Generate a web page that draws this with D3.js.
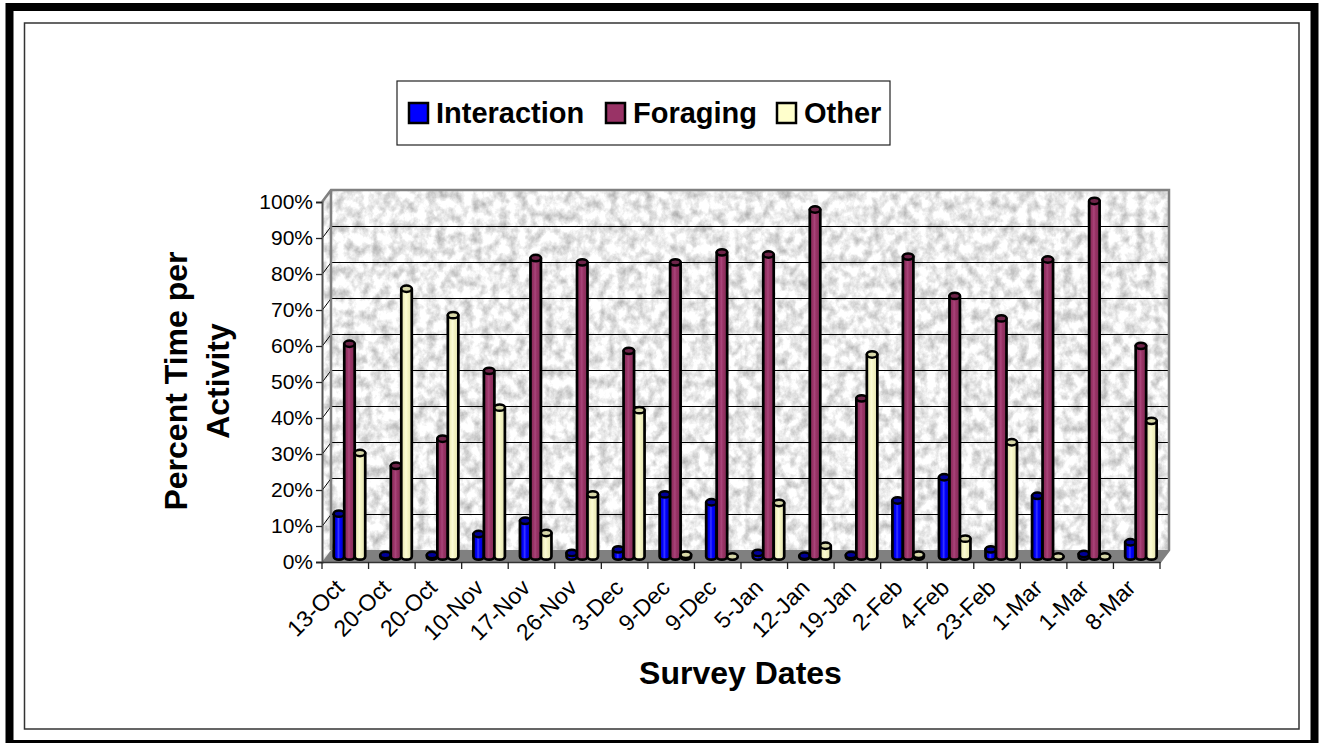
<!DOCTYPE html>
<html>
<head>
<meta charset="utf-8">
<script src="https://cdn.jsdelivr.net/npm/d3@7/dist/d3.min.js"></script>
<style>
  html, body { margin: 0; padding: 0; background: #fff; overflow: hidden; }
  svg { display: block; font-family: "Liberation Sans", Arial, sans-serif; }
</style>
</head>
<body>
<svg id="chart" width="1324" height="743"></svg>
<script>
// Survey dates (some dates were surveyed twice, so rows are addressed by index)
const categories = ["13-Oct","20-Oct","20-Oct","10-Nov","17-Nov","26-Nov","3-Dec","9-Dec","9-Dec","5-Jan","12-Jan","19-Jan","2-Feb","4-Feb","23-Feb","1-Mar","1-Mar","8-Mar"];
const seriesNames = ["Interaction","Foraging","Other"];
const interaction = [12,0.4,0.4,6.3,10,1,2,17.4,15.2,1,0.2,0.4,15.7,22.2,2,17,0.7,4];
const foraging = [59.6,25.4,33,52,83.6,82.4,57.6,82.4,85.2,84.6,97.2,44.3,84,73,66.7,83.2,99.6,59];
const other = [29,75,67.6,41.7,6.6,17.4,41,0.5,0,15,3,56.6,0.5,5,32,0,0,38];
const seriesColors = ["#0000ff","#993366","#f5f5c4"];
const seriesShades = [["#0000b0","#3a3aff"],["#7f2c55","#a8457a"],["#e2e2b0","#fbfbd6"]];
const capColors = ["#000099","#6e2449","#d8d8a8"];
const legendColors = ["#0000ff","#993366","#ffffcc"];
const yTicks = [0,10,20,30,40,50,60,70,80,90,100];

const svg = d3.select("#chart");
const defs = svg.append("defs");

// Plot box: front axes plus the offset of the back wall
const left = 322, right = 1160, frontTop = 202, frontBottom = 562;
const depthX = 9, depthY = -12;
const wallLeft = left + depthX, wallRight = right + depthX;
const wallTop = frontTop + depthY, wallBottom = frontBottom + depthY;

// Speckled stone surface for the walls
const stone = defs.append("filter").attr("id","stone")
  .attr("x",0).attr("y",0).attr("width",1).attr("height",1)
  .attr("color-interpolation-filters","sRGB");
stone.append("feTurbulence").attr("type","fractalNoise")
  .attr("baseFrequency","0.11 0.09").attr("numOctaves",4).attr("seed",11);
stone.append("feColorMatrix").attr("type","matrix")
  .attr("values","0.55 0 0 0 0.65  0.55 0 0 0 0.65  0.55 0 0 0 0.65  0 0 0 0 1");

// Side shading of the cylinders
seriesColors.forEach((c,i) => {
  const g = defs.append("linearGradient").attr("id","cyl"+i);
  [[0,seriesShades[i][0]],[0.3,c],[0.45,seriesShades[i][1]],[0.6,c],[1,seriesShades[i][0]]]
    .forEach(([o,col]) => g.append("stop").attr("offset",o).attr("stop-color",col));
});

// Page frames
svg.append("rect").attr("x",9.5).attr("y",7).attr("width",1305).attr("height",737)
  .attr("fill","#fff").attr("stroke","#000").attr("stroke-width",8);
svg.append("rect").attr("x",24.5).attr("y",23).attr("width",1274.5).attr("height",706)
  .attr("fill","none").attr("stroke","#333").attr("stroke-width",1.5);

// Scales
const y = d3.scaleLinear().domain([0,100]).range([frontBottom,frontTop]);
const barY = d3.scaleLinear().domain([0,100]).range([556.5,199.5]);
const x0 = d3.scaleBand().domain(d3.range(categories.length)).range([left,right]);
const x1 = d3.scaleBand().domain(seriesNames).range([0,x0.bandwidth()]).paddingOuter(0.717).paddingInner(0);
const barShiftX = 4.2;

// Walls and floor
svg.append("rect").attr("x",wallLeft).attr("y",wallTop)
  .attr("width",wallRight-wallLeft).attr("height",wallBottom-wallTop)
  .attr("filter","url(#stone)");
const leftWallClip = defs.append("clipPath").attr("id","leftWall");
const leftWallPts = [[left,frontTop],[wallLeft,wallTop],[wallLeft,wallBottom],[left,frontBottom]];
leftWallClip.append("polygon").attr("points",leftWallPts.join(" "));
svg.append("g").attr("clip-path","url(#leftWall)")
  .append("rect").attr("x",left).attr("y",wallTop).attr("width",depthX)
  .attr("height",frontBottom-wallTop).attr("filter","url(#stone)");
svg.append("polygon").attr("fill","#808080")
  .attr("points",[[left,frontBottom],[wallLeft,wallBottom],[wallRight,wallBottom],[right,frontBottom]].join(" "));

// Gridlines along the back wall and across the left wall
const grid = svg.append("g").attr("fill","none").attr("stroke","#000").attr("stroke-width",1);
grid.selectAll("path").data(yTicks.filter(t => t > 0 && t < 100)).join("path")
  .attr("d", t => `M${left},${y(t)+0.5}L${wallLeft},${y(t)+depthY+0.5}L${wallRight},${y(t)+depthY+0.5}`);

// Wall outline
svg.append("path").attr("fill","none").attr("stroke","#808080").attr("stroke-width",2.5)
  .attr("d",`M${left},${frontTop}L${wallLeft},${wallTop}L${wallRight},${wallTop}L${wallRight},${wallBottom}L${right},${frontBottom}M${wallLeft},${wallTop}L${wallLeft},${wallBottom}`);

// Value axis
const yAxis = svg.append("g").attr("transform",`translate(${left},0)`)
  .call(d3.axisLeft(y).tickValues(yTicks).tickSize(6).tickPadding(3).tickFormat(d => d + "%"));
yAxis.selectAll("text").attr("font-size",21).attr("font-family","'Liberation Sans', Arial, sans-serif").attr("fill","#000");
yAxis.selectAll("line").attr("stroke","#222").attr("stroke-width",1.3);
yAxis.select(".domain").attr("stroke","#555").attr("stroke-width",2);

// Category axis: ticks fall on the band edges, labels are slanted
const xAxis = svg.append("g").attr("transform",`translate(0,${frontBottom})`)
  .call(d3.axisBottom(x0).tickSize(0).tickPadding(0).tickFormat(i => categories[i]));
xAxis.select(".domain").attr("stroke","#333").attr("stroke-width",1.5);
xAxis.selectAll("text")
  .attr("font-size",23).attr("font-family","'Liberation Sans', Arial, sans-serif").attr("fill","#000")
  .attr("text-anchor","end")
  .attr("transform","translate(-5,22) rotate(-45)")
  .attr("dy","0.32em").attr("y",0);
svg.append("g").selectAll("line").data(d3.range(categories.length + 1)).join("line")
  .attr("x1", i => left + i * x0.step()).attr("x2", i => left + i * x0.step())
  .attr("y1",frontBottom).attr("y2",frontBottom+7)
  .attr("stroke","#222").attr("stroke-width",1.3);

// Cylinders
const rx = x1.bandwidth()/2, ry = 3.2;
const seriesValues = [interaction,foraging,other];
const groups = svg.append("g").selectAll("g").data(categories.map((c,i) => i)).join("g")
  .attr("transform", i => `translate(${x0(i)+barShiftX},0)`);
groups.each(function(i){
  const g = d3.select(this);
  seriesNames.forEach((name,s) => {
    const v = seriesValues[s][i];
    const cx = x1(name) + rx, top = barY(v), base = barY(0);
    g.append("path")
      .attr("d",`M${cx-rx},${top}L${cx-rx},${base}A${rx},${ry} 0 0 0 ${cx+rx},${base}L${cx+rx},${top}Z`)
      .attr("fill",`url(#cyl${s})`).attr("stroke","#000").attr("stroke-width",2.7).attr("stroke-linejoin","round");
    g.append("ellipse").attr("cx",cx).attr("cy",top).attr("rx",rx).attr("ry",ry)
      .attr("fill",capColors[s]).attr("stroke","#000").attr("stroke-width",2.5);
  });
});

// Axis titles
svg.append("text").attr("x",740.5).attr("y",684).attr("text-anchor","middle")
  .attr("font-size",32).attr("font-weight","bold").text("Survey Dates");
const yTitle = svg.append("text").attr("transform","translate(187,381) rotate(-90)")
  .attr("text-anchor","middle").attr("font-size",32).attr("font-weight","bold");
yTitle.append("tspan").attr("x",0).attr("y",0).text("Percent Time per");
yTitle.append("tspan").attr("x",0).attr("y",42).text("Activity");

// Legend
svg.append("rect").attr("x",397).attr("y",81).attr("width",493).attr("height",64)
  .attr("fill","#fff").attr("stroke","#222").attr("stroke-width",1.2);
const legendSwatchX = [409,606,777], legendTextX = [436,633,804];
const legend = svg.append("g").selectAll("g").data(seriesNames).join("g");
legend.append("rect").attr("x",(d,i) => legendSwatchX[i]).attr("y",103).attr("width",19).attr("height",20)
  .attr("fill",(d,i) => legendColors[i]).attr("stroke","#000").attr("stroke-width",2.5);
legend.append("text").attr("x",(d,i) => legendTextX[i]).attr("y",123)
  .attr("font-size",29).attr("font-weight","bold").text(d => d);
</script>
</body>
</html>
